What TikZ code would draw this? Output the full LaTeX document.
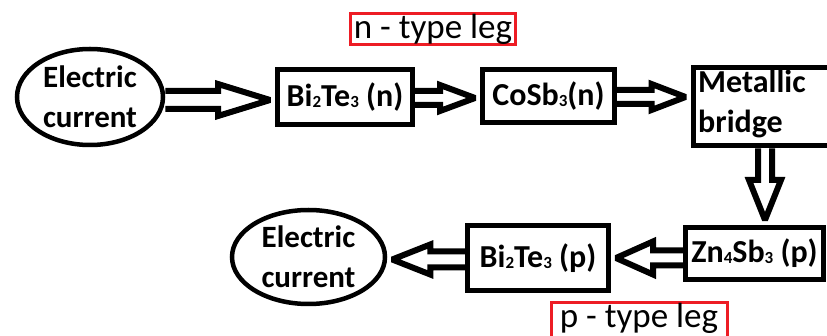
\documentclass[tikz,border=0pt]{standalone}
\usepackage{fontspec}
\setmainfont{Carlito}
\usetikzlibrary{calc,shapes.geometric}
\pgfdeclarelayer{bg}
\pgfsetlayers{bg,main}
\definecolor{redbox}{RGB}{237,28,36}
\newcommand\mysub[1]{\raisebox{-1pt}{\fontsize{17}{17}\selectfont #1}}
\newcommand\blockarrow[5]{%
  \path (#1) coordinate (ba-s) (#2) coordinate (ba-e);
  \path ($(ba-e)!5pt!(ba-s)$) coordinate (ba-t);
  \path ($(ba-t)!#5!(ba-s)$) coordinate (ba-b);
  \begin{pgfonlayer}{bg}
  \draw[barrow] ($(ba-s)!#3!90:(ba-t)$) -- ($(ba-b)!#3!90:(ba-t)$) -- ($(ba-b)!#4!90:(ba-t)$) -- (ba-t)
     -- ($(ba-b)!#4!-90:(ba-t)$) -- ($(ba-b)!#3!-90:(ba-t)$) -- ($(ba-s)!#3!-90:(ba-t)$);
  \end{pgfonlayer}}
\begin{document}
\begin{tikzpicture}[x=1pt,y=-1pt,
  ell/.style={draw, ellipse, line width=4.5pt, inner sep=0pt, align=center,
    font=\fontsize{31}{40}\selectfont\bfseries},
  box/.style={draw, rectangle, line width=5pt, inner sep=0pt,
    font=\fontsize{32}{38}\selectfont\bfseries},
  txt/.style={inner sep=0pt, align=left, font=\fontsize{32}{40}\selectfont\bfseries},
  lbl/.style={draw=redbox, line width=3pt, inner sep=0pt, font=\fontsize{35}{40}\selectfont},
  barrow/.style={draw, fill=white, line width=6pt, line join=miter, miter limit=2}]
\useasboundingbox (0,0) rectangle (827,336);
% nodes
\node[ell, minimum width=146, minimum height=96] (e1) at (90,97) {Electric\\current};
\node[box, minimum width=135, minimum height=55] (b1) at (345,97) {Bi\mysub{2}Te\mysub{3} (n)};
\node[box, minimum width=132, minimum height=53] (c1) at (548.5,96) {CoSb\mysub{3}(n)};
\node[box, minimum width=150, minimum height=78, anchor=north west] (m) at (690.5,65.5) {};
\node[txt, anchor=north west] (mt) at (698,70) {Metallic\\bridge};
\node[box, minimum width=138, minimum height=52] (z) at (754.5,253.5) {Zn\mysub{4}Sb\mysub{3} (p)};
\node[box, minimum width=141, minimum height=65] (b2) at (538,258) {Bi\mysub{2}Te\mysub{3} (p)};
\node[ell, minimum width=153, minimum height=94] (e2) at (308.5,257) {Electric\\current};
\node[lbl, minimum width=165, minimum height=31] (nl) at (433,29) {n - type leg};
\node[lbl, minimum width=176, minimum height=40, anchor=north west, text height=22, text depth=13] (pl) at (549.5,301.5) {p - type leg};
% connectors
\coordinate (a1s) at ($(e1.east)+(0,3)$);
\blockarrow{a1s}{a1s -| b1.west}{9pt}{16pt}{52pt}
\coordinate (a2s) at ($(b1.east)+(0,1)$);
\blockarrow{a2s}{a2s -| c1.west}{7pt}{13pt}{35pt}
\coordinate (a3s) at ($(c1.east)+(0,1)$);
\blockarrow{a3s}{a3s -| m.west}{7pt}{13pt}{34pt}
\coordinate (a4s) at ($(m.south)+(-3,0)$);
\blockarrow{a4s}{a4s |- z.north}{7pt}{16pt}{40pt}
\coordinate (a5s) at (b2.east -| z.west);
\blockarrow{a5s}{b2.east}{7.5pt}{16.5pt}{37pt}
\coordinate (a6s) at ($(b2.west)+(0,1.5)$);
\blockarrow{a6s}{a6s -| e2.east}{8pt}{15pt}{38pt}
\end{tikzpicture}
\end{document}
